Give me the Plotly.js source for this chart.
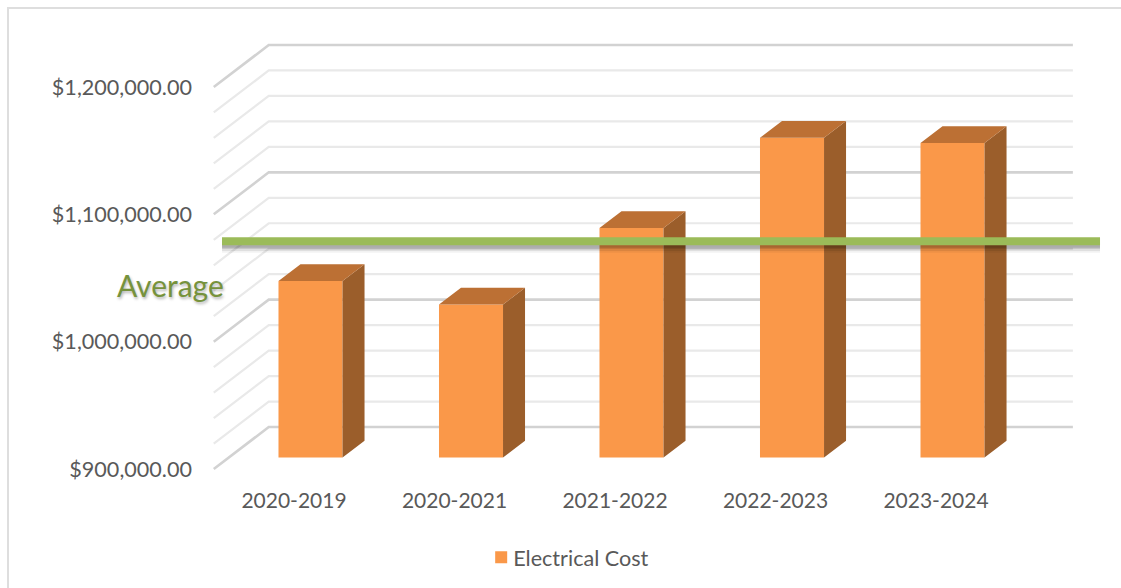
<!DOCTYPE html>
<html>
<head>
<meta charset="utf-8">
<script src="https://cdn.plot.ly/plotly-3.0.1.min.js"></script>
<style>
html,body{margin:0;padding:0;background:#fff;overflow:hidden;}
#chart{position:absolute;left:0;top:0;width:1121px;height:588px;}
#frame{position:absolute;left:7px;top:7px;width:1200px;height:700px;border:2px solid #dedede;box-sizing:border-box;}
</style>
</head>
<body>
<div id="frame"></div>
<div id="chart"></div>
<script>
// Electrical cost per fiscal year, drawn as a pseudo-3D column chart.
const categories = ['2020-2019','2020-2021','2021-2022','2022-2023','2023-2024'];
const electricalCost = [1038500,1020100,1080200,1151000,1146900];
const averageLevel = 1078900;
const averageSpan = [-0.4486,5.0218];
const axisTicks = [900000,1000000,1100000,1200000];
const gridLevels = [900000,920000,940000,960000,980000,1000000,1020000,1040000,1060000,1080000,
                    1100000,1120000,1140000,1160000,1180000,1200000];

// Depth of the floor expressed in axis units: a point at depth d is drawn
// at (x + d*DEPTH_X, value + d*DEPTH_Y).
const DEPTH_X = 0.3427, DEPTH_Y = 32985;
const BAR_FRONT_X = 0.30, BAR_FRONT_Y = 0.275, BAR_DEPTH = 0.40, BAR_WIDTH = 0.399;
const xIdx = categories.map((_, i) => i);
const XMIN = -0.5, XMAX = 4.51;
const TEXT = '#595959';
const FONT = 'Lato, Carlito, sans-serif';

const usd = v => '$' + v.toLocaleString('en-US', {minimumFractionDigits: 2, maximumFractionDigits: 2});

// Floor-and-wall gridlines: front edge to back wall, then across the wall.
const gridShapes = gridLevels.map(v => {
  const major = axisTicks.includes(v);
  const yBack = v + DEPTH_Y;
  return {
    type: 'path', layer: 'below', xref: 'x', yref: 'y',
    path: `M${XMIN},${v} L${XMIN + DEPTH_X},${yBack} L${XMAX + DEPTH_X},${yBack}`,
    line: {color: major ? '#d2d2d2' : '#e9e9e9', width: major ? 2.6 : 2.2}
  };
});

// Front faces carry the legend entry; the side and top faces are filled polygons.
const frontFace = {
  type: 'bar', name: 'Electrical Cost',
  x: xIdx.map(i => i + BAR_FRONT_X * DEPTH_X),
  base: xIdx.map(() => axisTicks[0] + BAR_FRONT_Y * DEPTH_Y),
  y: electricalCost.map(v => v - axisTicks[0]),
  width: BAR_WIDTH,
  marker: {color: '#fa9849', line: {width: 0}},
  hoverinfo: 'skip'
};

function facePolygons(color, cornerFn) {
  const xs = [], ys = [];
  electricalCost.forEach((v, i) => {
    cornerFn(i, v).forEach(p => { xs.push(p[0]); ys.push(p[1]); });
    xs.push(null); ys.push(null);
  });
  return {type: 'scatter', mode: 'lines', x: xs, y: ys, fill: 'toself', fillcolor: color,
          line: {width: 0, color: color}, showlegend: false, hoverinfo: 'skip'};
}

const frontDx = BAR_FRONT_X * DEPTH_X, depthDx = BAR_DEPTH * DEPTH_X;
const frontDy = BAR_FRONT_Y * DEPTH_Y, depthDy = BAR_DEPTH * DEPTH_Y;
const baseValue = axisTicks[0];

const sideFace = facePolygons('#9b5e2b', (i, v) => {
  const r = i + frontDx + BAR_WIDTH / 2;
  return [[r, baseValue + frontDy], [r + depthDx, baseValue + frontDy + depthDy],
          [r + depthDx, v + frontDy + depthDy], [r, v + frontDy], [r, baseValue + frontDy]];
});
const topFace = facePolygons('#bc7034', (i, v) => {
  const l = i + frontDx - BAR_WIDTH / 2, r = l + BAR_WIDTH, t = v + frontDy;
  return [[l, t], [r, t], [r + depthDx, t + depthDy], [l + depthDx, t + depthDy], [l, t]];
});

// Soft drop shadow under the average line, built from stacked translucent strokes.
const shadowSteps = [[14, 3500, 0.05], [11, 3300, 0.08], [8, 3000, 0.11], [6, 2800, 0.13]];
const avgShadow = shadowSteps.map(s => ({
  type: 'scatter', mode: 'lines', x: averageSpan,
  y: [averageLevel - s[1], averageLevel - s[1]],
  line: {color: `rgba(0,0,0,${s[2]})`, width: s[0]},
  showlegend: false, hoverinfo: 'skip'
}));
const avgLine = {
  type: 'scatter', mode: 'lines', x: averageSpan, y: [averageLevel, averageLevel],
  line: {color: '#9bbb59', width: 8}, showlegend: false, hoverinfo: 'skip'
};

const layout = {
  width: 1121, height: 588,
  margin: {l: 197, r: 11, t: 30, b: 106, autoexpand: false},
  paper_bgcolor: 'rgba(0,0,0,0)', plot_bgcolor: 'rgba(0,0,0,0)',
  font: {family: FONT, size: 21, color: TEXT},
  showlegend: true,
  legend: {orientation: 'h', x: 0.3025, xanchor: 'left', y: -0.121, yanchor: 'top',
           font: {family: FONT, size: 21.6, color: TEXT}, bgcolor: 'rgba(0,0,0,0)',
           itemwidth: 30, traceorder: 'normal'},
  xaxis: {range: [-0.6044, 5.084], tickmode: 'array', tickvals: xIdx, ticktext: categories,
          showgrid: false, zeroline: false, showline: false, ticks: '', automargin: false,
          ticklabelstandoff: 4, tickfont: {family: FONT, size: 21, color: TEXT}},
  yaxis: {range: [889790, 1244770], tickmode: 'array', tickvals: axisTicks, ticktext: axisTicks.map(usd),
          showgrid: false, zeroline: false, showline: false, ticks: '', automargin: false,
          ticklabelstandoff: 4, tickfont: {family: FONT, size: 21.6, color: TEXT}},
  shapes: gridShapes,
  annotations: [{
    xref: 'paper', yref: 'y', x: -0.0285, y: 1044500, xanchor: 'center', yanchor: 'middle',
    text: 'Average', showarrow: false,
    font: {family: FONT, size: 30, color: '#76923c', shadow: '1px 2px 3px rgba(0,0,0,0.3)'}
  }]
};

Plotly.newPlot('chart', [frontFace, sideFace, topFace, ...avgShadow, avgLine], layout,
               {staticPlot: true, displayModeBar: false}).then(() => {
  // Tighten the gap between the legend swatch and its label.
  const sym = document.querySelector('.legend .legendsymbols');
  if (sym) sym.setAttribute('transform', 'translate(8,0)');
});
</script>
</body>
</html>
